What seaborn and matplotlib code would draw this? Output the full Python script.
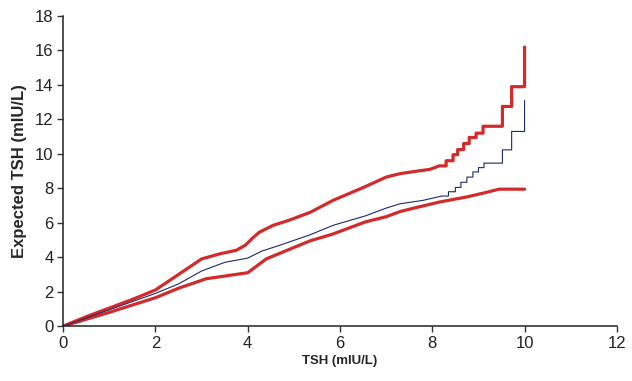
import matplotlib
matplotlib.use("Agg")
import matplotlib.pyplot as plt
import seaborn as sns
import pandas as pd

# Upper confidence bound (red)
upper_x = [0, 0.5, 1.0, 1.5, 2.0, 2.5, 2.75, 3.0, 3.4, 3.75, 3.95, 4.1, 4.25, 4.55, 4.9, 5.35, 5.85,
           6.55, 7.0, 7.3, 7.6, 7.95, 8.15, 8.3, 8.3, 8.45, 8.45, 8.55, 8.55, 8.68, 8.68, 8.8, 8.8,
           8.95, 8.95, 9.1, 9.1, 9.52, 9.52, 9.72, 9.72, 10.0, 10.0]
upper_y = [0, 0.55, 1.05, 1.55, 2.1, 3.0, 3.45, 3.9, 4.2, 4.4, 4.7, 5.1, 5.45, 5.85, 6.15, 6.6, 7.3,
           8.1, 8.65, 8.85, 8.97, 9.1, 9.3, 9.3, 9.6, 9.6, 9.95, 9.95, 10.25, 10.25, 10.6, 10.6,
           10.95, 10.95, 11.2, 11.2, 11.6, 11.6, 12.75, 12.75, 13.9, 13.9, 16.2]

# Expected TSH (navy)
mid_x = [0, 1.0, 2.0, 2.5, 3.0, 3.5, 4.0, 4.3, 4.7, 5.35, 5.85, 6.55, 7.0, 7.3, 7.8, 8.2,
         8.35, 8.35, 8.5, 8.5, 8.62, 8.62, 8.75, 8.75, 8.88, 8.88, 9.0, 9.0, 9.12, 9.12,
         9.52, 9.52, 9.72, 9.72, 10.0, 10.0]
mid_y = [0, 0.95, 1.9, 2.45, 3.2, 3.7, 3.95, 4.35, 4.7, 5.3, 5.85, 6.4, 6.85, 7.1, 7.3, 7.55,
         7.55, 7.8, 7.8, 8.05, 8.05, 8.35, 8.35, 8.65, 8.65, 8.95, 8.95, 9.2, 9.2, 9.46,
         9.46, 10.23, 10.23, 11.3, 11.3, 13.1]

# Lower confidence bound (red)
lower_x = [0, 1.0, 2.0, 2.5, 3.1, 4.0, 4.4, 4.85, 5.35, 5.85, 6.55, 7.0, 7.3, 7.6, 8.15,
           8.75, 9.15, 9.45, 10.0]
lower_y = [0, 0.8, 1.65, 2.2, 2.75, 3.1, 3.9, 4.4, 4.95, 5.35, 6.05, 6.35, 6.65, 6.85, 7.2,
           7.5, 7.75, 7.95, 7.95]

x_ticks = [0, 2, 4, 6, 8, 10, 12]
y_ticks = [0, 2, 4, 6, 8, 10, 12, 14, 16, 18]

sns.set_style("ticks")
plt.rcParams['font.family'] = ['Liberation Sans', 'DejaVu Sans']

fig = plt.figure(figsize=(6.32, 3.81), dpi=100)
ax = fig.add_axes([0.1, 0.144, 0.876, 0.814])

red = "#d42a2a"
navy = "#1c2a6e"

df_u = pd.DataFrame({"x": upper_x, "y": upper_y})
df_m = pd.DataFrame({"x": mid_x, "y": mid_y})
df_l = pd.DataFrame({"x": lower_x, "y": lower_y})

sns.lineplot(data=df_u, x="x", y="y", ax=ax, color=red, linewidth=2.3, sort=False, estimator=None)
sns.lineplot(data=df_l, x="x", y="y", ax=ax, color=red, linewidth=2.3, sort=False, estimator=None)
sns.lineplot(data=df_m, x="x", y="y", ax=ax, color=navy, linewidth=0.8, sort=False, estimator=None)

ax.set_xlim(0, 12)
ax.set_ylim(0, 18)
ax.set_xticks(x_ticks)
ax.set_yticks(y_ticks)
ax.tick_params(axis="both", labelsize=12, length=4, width=1, color="#333333",
               labelcolor="#222222", pad=3)
for s in ["top", "right"]:
    ax.spines[s].set_visible(False)
for s in ["left", "bottom"]:
    ax.spines[s].set_color("#222222")
    ax.spines[s].set_linewidth(1.1)

ax.set_xlabel("TSH (mIU/L)", fontsize=9.5, fontweight="bold", labelpad=3)
ax.set_ylabel("Expected TSH (mIU/L)", fontsize=12, fontweight="bold", labelpad=6)

fig.savefig("out.png", dpi=100)
